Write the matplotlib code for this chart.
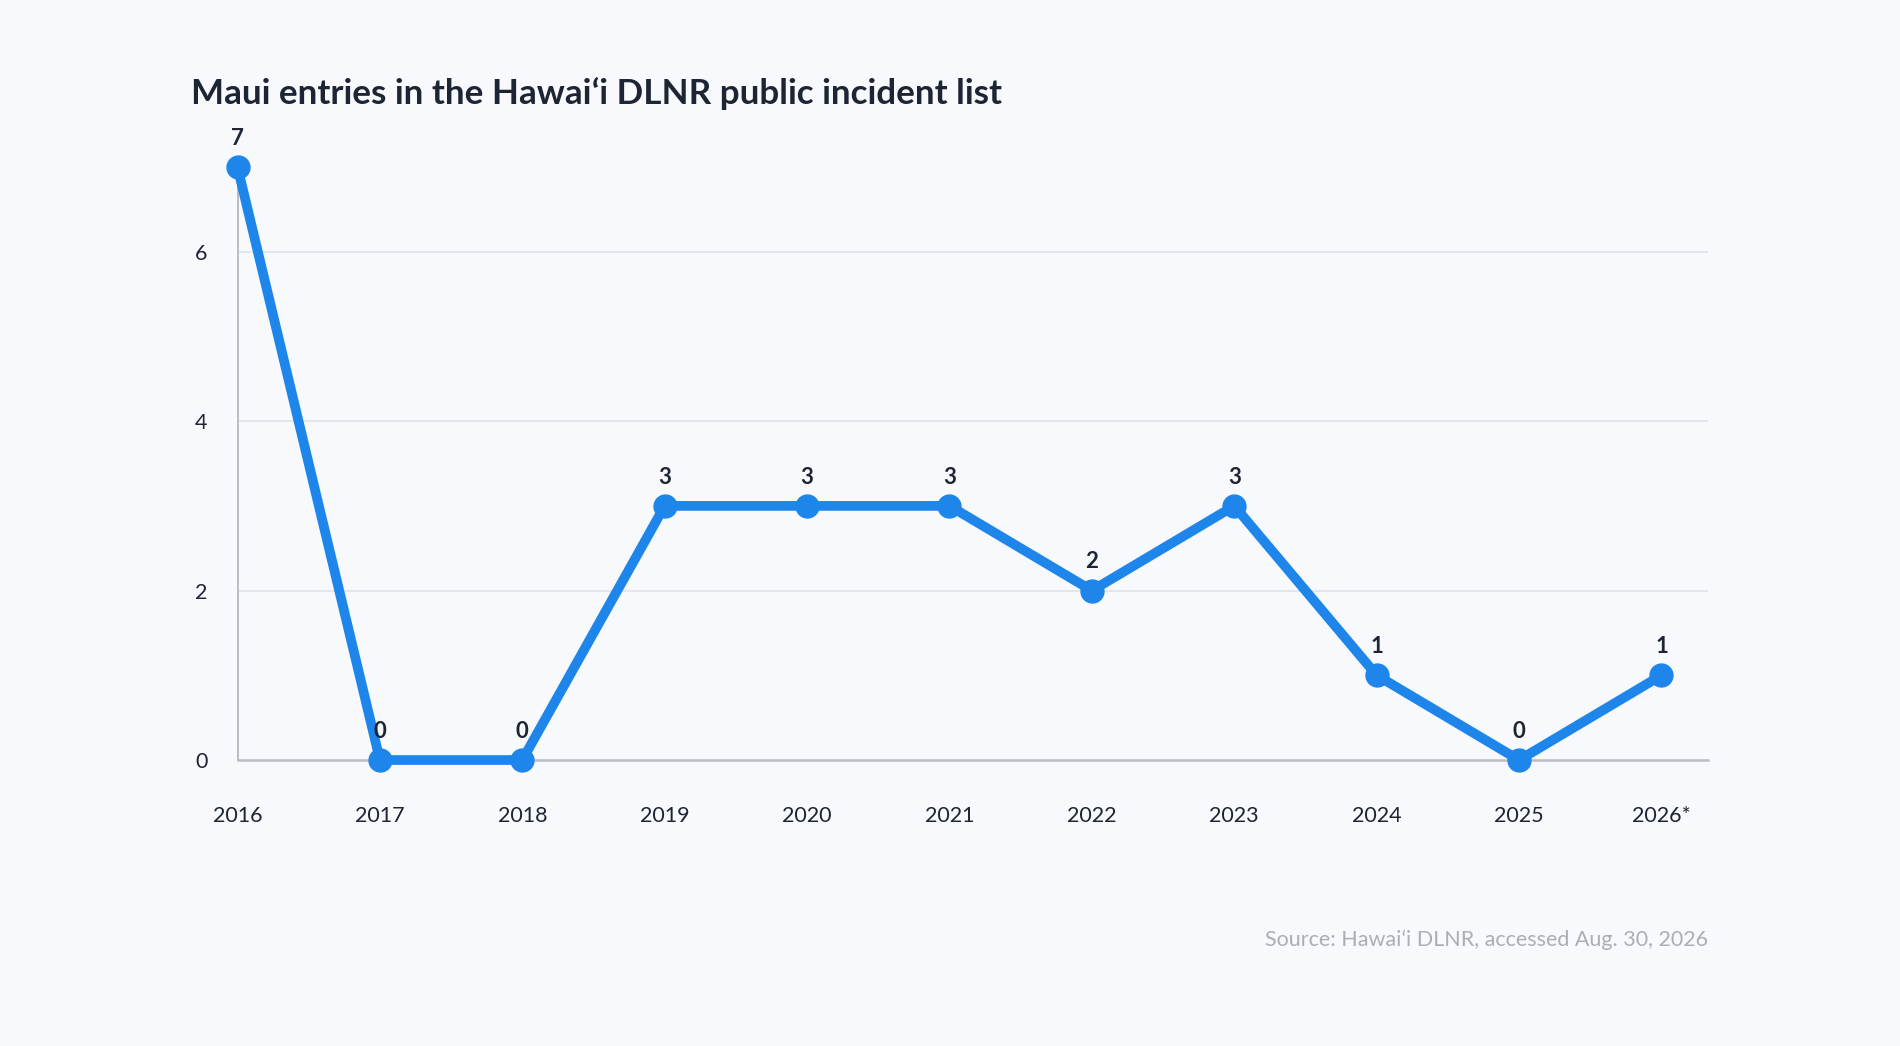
import matplotlib
matplotlib.use("Agg")
import matplotlib.pyplot as plt

plt.rcParams['font.family'] = ['Lato', 'DejaVu Sans']

years = ['2016', '2017', '2018', '2019', '2020', '2021', '2022', '2023', '2024', '2025', '2026*']
entries = [7, 0, 0, 3, 3, 3, 2, 3, 1, 0, 1]
y_ticks = [0, 2, 4, 6]

bg = '#f7f9fc'
blue = '#1e86ea'
dark = '#1d2433'

fig = plt.figure(figsize=(19, 10.46), dpi=100, facecolor=bg)
ax = fig.add_axes([0.125, 0.2734, 0.7742, 0.5669], facecolor=bg)

x = list(range(len(years)))
ax.plot(x, entries, color=blue, lw=7, marker='o', ms=16.5, clip_on=False, zorder=3,
        solid_capstyle='round', solid_joinstyle='round')

for xi, v in zip(x, entries):
    ax.annotate(str(v), (xi, v), xytext=(0, 16), textcoords='offset points',
                ha='center', va='baseline', fontsize=16, fontweight='bold', color=dark, zorder=4)

ax.set_xlim(0, 10.33)
ax.set_ylim(0, 7)
ax.set_xticks(x)
ax.set_xticklabels(years)
ax.set_yticks(y_ticks)
ax.tick_params(axis='x', length=0, pad=33, labelsize=15.5, labelcolor=dark)
ax.tick_params(axis='y', length=0, pad=21.5, labelsize=15.5, labelcolor=dark)

for yv in y_ticks[1:]:
    ax.axhline(yv, color='#e1e4ea', lw=1.3, zorder=1)

for s in ['top', 'right']:
    ax.spines[s].set_visible(False)
ax.spines['left'].set_color('#babdc4')
ax.spines['left'].set_linewidth(1.4)
ax.spines['bottom'].set_color('#babdc4')
ax.spines['bottom'].set_linewidth(1.8)

fig.text(0.1003, 0.9006, 'Maui entries in the Hawaiʻi DLNR public incident list',
         fontsize=25.2, fontweight='bold', color=dark, ha='left', va='baseline')
fig.text(0.8992, 0.0956, 'Source: Hawaiʻi DLNR, accessed Aug. 30, 2026',
         fontsize=15.5, color='#aaaeb6', ha='right', va='baseline')

fig.savefig('out.png', dpi=100, facecolor=bg)
